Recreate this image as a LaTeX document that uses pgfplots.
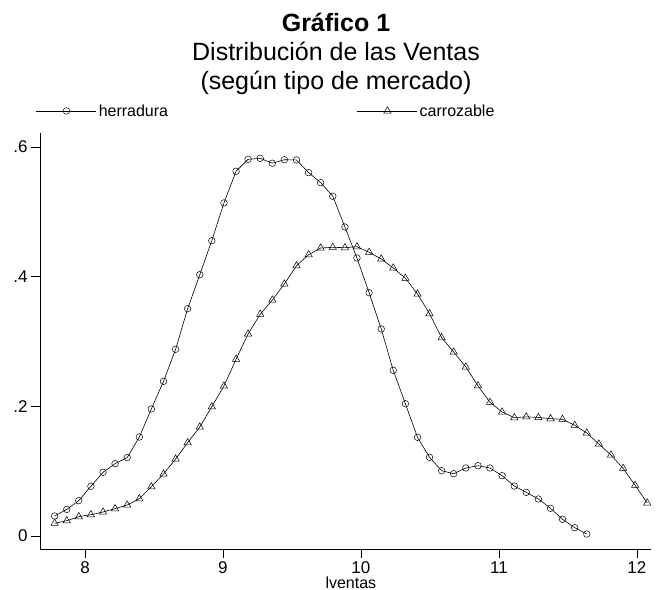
\documentclass[border=0pt]{standalone}
\usepackage{fontspec}
\setmainfont{Liberation Sans}
\usepackage{pgfplots}
\usepackage{pgfplotstable}
\pgfplotsset{compat=1.18}

\pgfplotstableread{
x y
7.780 0.0309
7.868 0.0410
7.955 0.0545
8.043 0.0767
8.131 0.0983
8.218 0.1115
8.306 0.1210
8.394 0.1527
8.481 0.1960
8.569 0.2386
8.657 0.2880
8.744 0.3506
8.832 0.4030
8.919 0.4555
9.007 0.5137
9.095 0.5626
9.182 0.5810
9.270 0.5826
9.358 0.5750
9.445 0.5804
9.533 0.5800
9.621 0.5604
9.708 0.5450
9.796 0.5240
9.884 0.4766
9.971 0.4288
10.059 0.3753
10.147 0.3193
10.234 0.2556
10.322 0.2040
10.410 0.1522
10.497 0.1214
10.585 0.1007
10.672 0.0961
10.760 0.1049
10.848 0.1084
10.935 0.1049
11.023 0.0930
11.111 0.0771
11.198 0.0674
11.286 0.0571
11.374 0.0427
11.461 0.0258
11.549 0.0128
11.637 0.0030
}\herradura

\pgfplotstableread{
x y
7.780 0.0196
7.868 0.0236
7.955 0.0298
8.043 0.0329
8.131 0.0370
8.218 0.0421
8.306 0.0478
8.394 0.0575
8.481 0.0760
8.569 0.0956
8.657 0.1188
8.744 0.1439
8.832 0.1681
8.919 0.1994
9.007 0.2314
9.095 0.2726
9.182 0.3116
9.270 0.3420
9.358 0.3640
9.445 0.3887
9.533 0.4169
9.621 0.4339
9.708 0.4442
9.796 0.4453
9.884 0.4447
9.971 0.4462
10.059 0.4376
10.147 0.4273
10.234 0.4134
10.322 0.3975
10.410 0.3733
10.497 0.3429
10.585 0.3059
10.672 0.2838
10.760 0.2607
10.848 0.2318
10.935 0.2062
11.023 0.1913
11.111 0.1825
11.198 0.1838
11.286 0.1828
11.374 0.1810
11.461 0.1800
11.549 0.1708
11.637 0.1589
11.724 0.1419
11.812 0.1249
11.900 0.1044
11.987 0.0782
12.075 0.0509
}\carrozable

\begin{document}
\begin{tikzpicture}
\path[use as bounding box] (0bp,0bp) rectangle (656bp,590bp);
\begin{axis}[
  at={(40bp,41bp)}, anchor=south west,
  scale only axis, width=610.7bp, height=416bp,
  xmin=7.674, xmax=12.1, ymin=-0.02005, ymax=0.6216,
  axis lines*=left,
  axis line style={black, line width=0.6pt},
  xtick={8,9,10,11,12}, xticklabels={8,9,10,11,12},
  ytick={0,0.2,0.4,0.6}, yticklabels={0,.2,.4,.6},
  tick align=outside, major tick length=9bp,
  tick style={black, line width=0.6pt},
  /pgf/number format/assume math mode=true,
  ticklabel style={font=\fontsize{17bp}{20bp}\selectfont},
  xlabel={lventas},
  xlabel style={font=\fontsize{16bp}{19bp}\selectfont, at={(axis description cs:0.509,-0.09375)}, anchor=base, inner sep=0pt},
  title={\textbf{Gráfico 1}\\Distribución de las Ventas\\(según tipo de mercado)},
  title style={at={(axis description cs:0.4847,1.2752)}, anchor=north, align=center, inner sep=0pt, font=\fontsize{25bp}{29bp}\selectfont},
  legend style={at={(axis description cs:-0.0115,1.053)}, anchor=west, draw=none, fill=none,
    legend columns=2, font=\fontsize{16bp}{19bp}\selectfont,
    /tikz/every even column/.append style={column sep=187bp}},
  legend cell align=left,
  legend image code/.code={\draw[mark repeat=2, mark phase=2, #1] plot coordinates {(0bp,0bp) (30bp,0bp) (60bp,0bp)};},
]
\addplot[black, line width=0.6pt, mark=o, mark size=3.3bp, mark options={line width=0.5pt}] table[x=x,y=y] {\herradura};
\addlegendentry{herradura}
\addplot[black, line width=0.6pt, mark=triangle, mark size=4.2bp, mark options={line width=0.5pt}] table[x=x,y=y] {\carrozable};
\addlegendentry{carrozable}
\end{axis}
\end{tikzpicture}
\end{document}
